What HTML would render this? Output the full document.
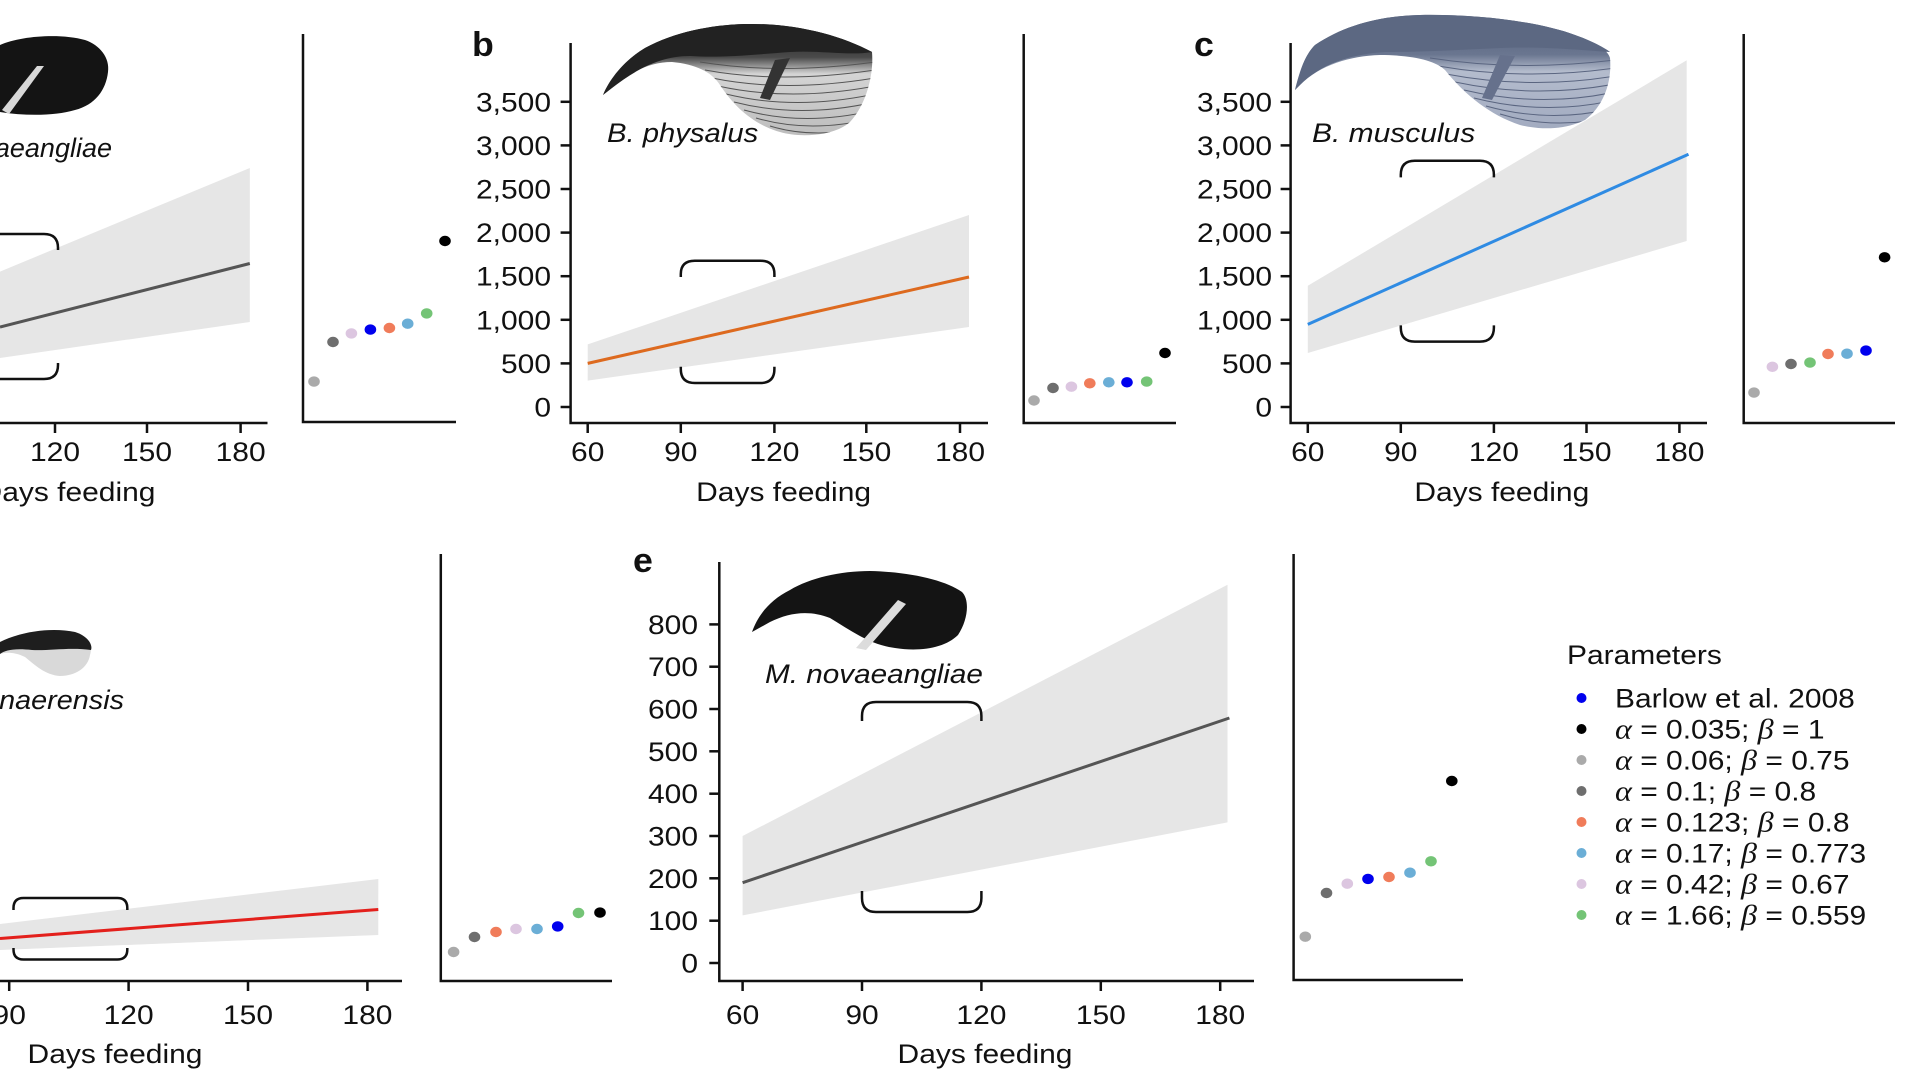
<!DOCTYPE html>
<html><head><meta charset="utf-8"><style>
html,body{margin:0;padding:0;background:#fff;}
svg{display:block;}
text{font-family:"Liberation Sans",Arial,sans-serif;font-size:27px;fill:#111;}
.it{font-style:italic;}
.gr{font-family:"Liberation Serif",serif;font-style:italic;font-size:29px;}
.lbl{font-weight:bold;font-size:34px;}
.ax{stroke:#111;stroke-width:2.5;fill:none;}
.br{stroke:#111;stroke-width:2.5;fill:none;}
</style></head><body>
<svg width="1920" height="1080" viewBox="0 0 1920 1080" xmlns="http://www.w3.org/2000/svg">
<rect width="1920" height="1080" fill="#fff"/>

<!-- ============ PANEL A (partial) ============ -->
<path d="M0,45 C20,36 60,33 85,40 C100,45 110,58 108,72 C106,90 95,105 75,110 C55,116 25,116 0,112 Z" fill="#141414"/>
<path d="M44,66 L37,66 L2,110 L9,114 Z" fill="#d8d8d8"/>
<text class="it" text-anchor="end" transform="translate(112,157) scale(1.0,1)">M. novaeangliae</text>
<polygon points="0,271.6 249.8,168 249.8,322 0,358" fill="#e6e6e6"/>
<line x1="0" y1="327" x2="249.8" y2="263.5" stroke="#555" stroke-width="3"/>
<path class="br" d="M-38,250 V248 Q-38,234 -24,234 H44 Q58,234 58,248 V250"/>
<path class="br" d="M-38,363 V365 Q-38,379 -24,379 H44 Q58,379 58,365 V363"/>
<line class="ax" x1="0" y1="423" x2="267.5" y2="423"/>
<g class="ax"><line x1="55" y1="423" x2="55" y2="433"/><line x1="147" y1="423" x2="147" y2="433"/><line x1="240.6" y1="423" x2="240.6" y2="433"/></g>
<text text-anchor="middle" transform="translate(55,461) scale(1.11,1)">120</text>
<text text-anchor="middle" transform="translate(147,461) scale(1.11,1)">150</text>
<text text-anchor="middle" transform="translate(240.6,461) scale(1.11,1)">180</text>
<text text-anchor="middle" transform="translate(68,501) scale(1.11,1)">Days feeding</text>
<path class="ax" d="M303,34 V422 H456"/>
<ellipse cx="314" cy="381.6" rx="5.8" ry="5.2" fill="#aaaaaa"/>
<ellipse cx="333" cy="342" rx="5.8" ry="5.2" fill="#6e6e6e"/>
<ellipse cx="351.4" cy="333.4" rx="5.8" ry="5.2" fill="#dcc6e0"/>
<ellipse cx="370.4" cy="329.6" rx="5.8" ry="5.2" fill="#0000ee"/>
<ellipse cx="389.4" cy="328" rx="5.8" ry="5.2" fill="#f07c5a"/>
<ellipse cx="407.7" cy="323.7" rx="5.8" ry="5.2" fill="#6baed6"/>
<ellipse cx="426.7" cy="313.4" rx="5.8" ry="5.2" fill="#74c476"/>
<ellipse cx="445" cy="241" rx="5.8" ry="5.2" fill="#000"/>

<!-- ============ PANEL B ============ -->
<text class="lbl" transform="translate(472,56) scale(1.05,1)">b</text>
<defs>
<linearGradient id="gb" x1="0" y1="0" x2="0" y2="1"><stop offset="0" stop-color="#1e1e1e"/><stop offset="0.3" stop-color="#4a4a4a"/><stop offset="0.45" stop-color="#d4d4d4"/><stop offset="1" stop-color="#bdbdbd"/></linearGradient>
<linearGradient id="gc" x1="0" y1="0" x2="0" y2="1"><stop offset="0" stop-color="#4f5b75"/><stop offset="0.35" stop-color="#6a7690"/><stop offset="0.5" stop-color="#b4bccd"/><stop offset="1" stop-color="#a2abc0"/></linearGradient>
<clipPath id="cb"><path d="M603,95 C610,78 625,60 645,48 C675,32 710,25 745,24 C795,23 840,35 872,52 C874,75 866,105 850,122 C835,136 800,138 780,132 C755,125 735,108 720,85 C712,72 695,64 672,62 C650,62 630,72 612,88 Z"/></clipPath>
<clipPath id="cc"><path d="M1295,90 C1300,70 1305,55 1315,45 C1345,25 1380,16 1420,15 C1480,14 1540,22 1575,35 C1595,42 1608,50 1610,58 C1612,80 1605,105 1585,120 C1565,130 1540,130 1520,125 C1490,115 1465,95 1445,70 C1435,60 1410,55 1380,55 C1350,56 1320,65 1300,85 Z"/></clipPath>
</defs>
<path d="M603,95 C610,78 625,60 645,48 C675,32 710,25 745,24 C795,23 840,35 872,52 C874,75 866,105 850,122 C835,136 800,138 780,132 C755,125 735,108 720,85 C712,72 695,64 672,62 C650,62 630,72 612,88 Z" fill="url(#gb)"/>
<g clip-path="url(#cb)" stroke="#555" stroke-width="1" fill="none">
<path d="M700,62 Q780,75 875,62"/><path d="M705,70 Q780,84 875,70"/><path d="M712,78 Q785,93 875,78"/><path d="M718,86 Q790,102 875,86"/><path d="M726,94 Q795,111 875,94"/><path d="M734,102 Q800,119 875,102"/><path d="M744,110 Q805,127 875,110"/><path d="M756,118 Q810,134 875,118"/><path d="M770,126 Q815,140 875,126"/>
</g>
<path d="M603,95 C610,78 625,60 645,48 C675,32 710,25 745,24 C795,23 840,35 872,52 C850,56 820,50 790,52 C750,55 720,58 690,56 C660,56 635,70 612,88 Z" fill="#222"/>
<path d="M775,60 L790,58 L770,100 L760,98 Z" fill="#333"/>
<text class="it" transform="translate(607,142) scale(1.084,1)">B. physalus</text>
<polygon points="587.7,344.4 969,215 969,327 587.7,380.6" fill="#e6e6e6"/>
<line x1="587.7" y1="363.4" x2="969" y2="277" stroke="#dd6a1f" stroke-width="3"/>
<path class="br" d="M680.8,277 V274 Q680.8,260.7 694.8,260.7 H760.4 Q774.4,260.7 774.4,274 V277"/>
<path class="br" d="M680.8,366.8 V369 Q680.8,383 694.8,383 H760.4 Q774.4,383 774.4,369 V366.8"/>
<path class="ax" d="M570.6,43 V423 H988"/>
<g class="ax">
<line x1="560.6" y1="407" x2="570.6" y2="407"/><line x1="560.6" y1="363.4" x2="570.6" y2="363.4"/><line x1="560.6" y1="319.8" x2="570.6" y2="319.8"/><line x1="560.6" y1="276.2" x2="570.6" y2="276.2"/><line x1="560.6" y1="232.6" x2="570.6" y2="232.6"/><line x1="560.6" y1="189" x2="570.6" y2="189"/><line x1="560.6" y1="145.4" x2="570.6" y2="145.4"/><line x1="560.6" y1="101.8" x2="570.6" y2="101.8"/>
<line x1="587.7" y1="423" x2="587.7" y2="433"/><line x1="680.8" y1="423" x2="680.8" y2="433"/><line x1="774.4" y1="423" x2="774.4" y2="433"/><line x1="866.3" y1="423" x2="866.3" y2="433"/><line x1="960" y1="423" x2="960" y2="433"/>
</g>
<g text-anchor="end">
<text transform="translate(551,416.5) scale(1.11,1)">0</text>
<text transform="translate(551,372.9) scale(1.11,1)">500</text>
<text transform="translate(551,329.3) scale(1.11,1)">1,000</text>
<text transform="translate(551,285.7) scale(1.11,1)">1,500</text>
<text transform="translate(551,242.1) scale(1.11,1)">2,000</text>
<text transform="translate(551,198.5) scale(1.11,1)">2,500</text>
<text transform="translate(551,154.9) scale(1.11,1)">3,000</text>
<text transform="translate(551,111.3) scale(1.11,1)">3,500</text>
</g>
<g text-anchor="middle">
<text transform="translate(587.7,461) scale(1.11,1)">60</text>
<text transform="translate(680.8,461) scale(1.11,1)">90</text>
<text transform="translate(774.4,461) scale(1.11,1)">120</text>
<text transform="translate(866.3,461) scale(1.11,1)">150</text>
<text transform="translate(960,461) scale(1.11,1)">180</text>
<text transform="translate(783.6,501) scale(1.11,1)">Days feeding</text>
</g>
<path class="ax" d="M1023.7,34 V423 H1176"/>
<ellipse cx="1034" cy="400.5" rx="5.8" ry="5.2" fill="#aaaaaa"/>
<ellipse cx="1053" cy="388" rx="5.8" ry="5.2" fill="#6e6e6e"/>
<ellipse cx="1071.4" cy="386.7" rx="5.8" ry="5.2" fill="#dcc6e0"/>
<ellipse cx="1089.8" cy="383.3" rx="5.8" ry="5.2" fill="#f07c5a"/>
<ellipse cx="1108.8" cy="382.3" rx="5.8" ry="5.2" fill="#6baed6"/>
<ellipse cx="1127" cy="382.3" rx="5.8" ry="5.2" fill="#0000ee"/>
<ellipse cx="1146.7" cy="381.6" rx="5.8" ry="5.2" fill="#74c476"/>
<ellipse cx="1165" cy="353" rx="5.8" ry="5.2" fill="#000"/>

<!-- ============ PANEL C ============ -->
<text class="lbl" transform="translate(1194,56) scale(1.05,1)">c</text>
<path d="M1295,90 C1300,70 1305,55 1315,45 C1345,25 1380,16 1420,15 C1480,14 1540,22 1575,35 C1595,42 1608,50 1610,58 C1612,80 1605,105 1585,120 C1565,130 1540,130 1520,125 C1490,115 1465,95 1445,70 C1435,60 1410,55 1380,55 C1350,56 1320,65 1300,85 Z" fill="url(#gc)"/>
<g clip-path="url(#cc)" stroke="#5a6580" stroke-width="1" fill="none">
<path d="M1430,58 Q1520,72 1615,60"/><path d="M1438,66 Q1525,81 1615,68"/><path d="M1446,74 Q1530,90 1615,76"/><path d="M1455,82 Q1535,99 1615,84"/><path d="M1464,90 Q1540,108 1615,92"/><path d="M1474,98 Q1545,116 1615,100"/><path d="M1486,106 Q1550,124 1615,108"/><path d="M1500,114 Q1555,131 1615,116"/>
</g>
<path d="M1295,90 C1300,70 1305,55 1315,45 C1345,25 1380,16 1420,15 C1480,14 1540,22 1575,35 C1595,42 1608,50 1610,52 C1580,50 1540,46 1500,48 C1460,50 1420,52 1385,52 C1350,54 1320,65 1300,85 Z" fill="#5c6882"/>
<path d="M1500,55 L1515,56 L1492,100 L1482,98 Z" fill="#66718c"/>
<text class="it" transform="translate(1312,142) scale(1.11,1)">B. musculus</text>
<polygon points="1307.8,285.8 1686.7,60.3 1686.7,241 1307.8,353" fill="#e6e6e6"/>
<line x1="1307.8" y1="324.4" x2="1688.5" y2="154.3" stroke="#2f8be3" stroke-width="3"/>
<path class="br" d="M1400.8,177.4 V174.8 Q1400.8,160.8 1414.8,160.8 H1479.9 Q1493.9,160.8 1493.9,174.8 V177.4"/>
<path class="br" d="M1400.8,325.4 V327.6 Q1400.8,341.6 1414.8,341.6 H1479.9 Q1493.9,341.6 1493.9,327.6 V325.4"/>
<path class="ax" d="M1290.6,43 V423 H1707"/>
<g class="ax">
<line x1="1280.6" y1="407" x2="1290.6" y2="407"/><line x1="1280.6" y1="363.4" x2="1290.6" y2="363.4"/><line x1="1280.6" y1="319.8" x2="1290.6" y2="319.8"/><line x1="1280.6" y1="276.2" x2="1290.6" y2="276.2"/><line x1="1280.6" y1="232.6" x2="1290.6" y2="232.6"/><line x1="1280.6" y1="189" x2="1290.6" y2="189"/><line x1="1280.6" y1="145.4" x2="1290.6" y2="145.4"/><line x1="1280.6" y1="101.8" x2="1290.6" y2="101.8"/>
<line x1="1307.8" y1="423" x2="1307.8" y2="433"/><line x1="1400.8" y1="423" x2="1400.8" y2="433"/><line x1="1493.9" y1="423" x2="1493.9" y2="433"/><line x1="1586.5" y1="423" x2="1586.5" y2="433"/><line x1="1679.4" y1="423" x2="1679.4" y2="433"/>
</g>
<g text-anchor="end">
<text transform="translate(1272,416.5) scale(1.11,1)">0</text>
<text transform="translate(1272,372.9) scale(1.11,1)">500</text>
<text transform="translate(1272,329.3) scale(1.11,1)">1,000</text>
<text transform="translate(1272,285.7) scale(1.11,1)">1,500</text>
<text transform="translate(1272,242.1) scale(1.11,1)">2,000</text>
<text transform="translate(1272,198.5) scale(1.11,1)">2,500</text>
<text transform="translate(1272,154.9) scale(1.11,1)">3,000</text>
<text transform="translate(1272,111.3) scale(1.11,1)">3,500</text>
</g>
<g text-anchor="middle">
<text transform="translate(1307.8,461) scale(1.11,1)">60</text>
<text transform="translate(1400.8,461) scale(1.11,1)">90</text>
<text transform="translate(1493.9,461) scale(1.11,1)">120</text>
<text transform="translate(1586.5,461) scale(1.11,1)">150</text>
<text transform="translate(1679.4,461) scale(1.11,1)">180</text>
<text transform="translate(1501.8,501) scale(1.11,1)">Days feeding</text>
</g>
<path class="ax" d="M1743.7,34 V423 H1895"/>
<ellipse cx="1754" cy="392.6" rx="5.8" ry="5.2" fill="#aaaaaa"/>
<ellipse cx="1772.4" cy="366.8" rx="5.8" ry="5.2" fill="#dcc6e0"/>
<ellipse cx="1791" cy="364" rx="5.8" ry="5.2" fill="#6e6e6e"/>
<ellipse cx="1810" cy="362.6" rx="5.8" ry="5.2" fill="#74c476"/>
<ellipse cx="1828" cy="354" rx="5.8" ry="5.2" fill="#f07c5a"/>
<ellipse cx="1847" cy="353.7" rx="5.8" ry="5.2" fill="#6baed6"/>
<ellipse cx="1866" cy="350.6" rx="5.8" ry="5.2" fill="#0000ee"/>
<ellipse cx="1884.6" cy="257.3" rx="5.8" ry="5.2" fill="#000"/>

<!-- ============ PANEL D (partial) ============ -->
<path d="M0,642 C20,632 50,627 75,632 C88,636 93,645 90,655 C88,668 75,676 60,676 C45,675 35,665 25,657 C15,652 5,652 0,654 Z" fill="#d9d9d9"/>
<path d="M0,642 C20,632 50,627 75,632 C88,636 93,645 91,650 C70,647 48,651 32,650 C15,648 5,650 0,654 Z" fill="#1e1e1e"/>
<text class="it" text-anchor="end" transform="translate(124,709) scale(1.067,1)">B. bonaerensis</text>
<polygon points="0,924 378.3,879 378.3,935 0,950" fill="#e6e6e6"/>
<line x1="0" y1="938.5" x2="378.3" y2="909.5" stroke="#e3201c" stroke-width="3"/>
<path class="br" d="M13.5,910 V908 Q13.5,898 23.5,898 H117.3 Q127.3,898 127.3,908 V910"/>
<path class="br" d="M13.5,948 V949.5 Q13.5,959.5 23.5,959.5 H117.3 Q127.3,959.5 127.3,949.5 V948"/>
<line class="ax" x1="0" y1="981" x2="402" y2="981"/>
<g class="ax"><line x1="9.2" y1="981" x2="9.2" y2="991"/><line x1="128.6" y1="981" x2="128.6" y2="991"/><line x1="248" y1="981" x2="248" y2="991"/><line x1="367.4" y1="981" x2="367.4" y2="991"/></g>
<g text-anchor="middle">
<text transform="translate(9.2,1024) scale(1.11,1)">90</text>
<text transform="translate(128.6,1024) scale(1.11,1)">120</text>
<text transform="translate(248,1024) scale(1.11,1)">150</text>
<text transform="translate(367.4,1024) scale(1.11,1)">180</text>
<text transform="translate(115,1063) scale(1.11,1)">Days feeding</text>
</g>
<path class="ax" d="M440.8,554 V981 H612"/>
<ellipse cx="453.6" cy="952" rx="5.8" ry="5.2" fill="#aaaaaa"/>
<ellipse cx="474.5" cy="937" rx="5.8" ry="5.2" fill="#6e6e6e"/>
<ellipse cx="496" cy="932" rx="5.8" ry="5.2" fill="#f07c5a"/>
<ellipse cx="516" cy="929" rx="5.8" ry="5.2" fill="#dcc6e0"/>
<ellipse cx="537" cy="929" rx="5.8" ry="5.2" fill="#6baed6"/>
<ellipse cx="557.7" cy="926.4" rx="5.8" ry="5.2" fill="#0000ee"/>
<ellipse cx="578.5" cy="913" rx="5.8" ry="5.2" fill="#74c476"/>
<ellipse cx="600" cy="912.6" rx="5.8" ry="5.2" fill="#000"/>

<!-- ============ PANEL E ============ -->
<text class="lbl" transform="translate(633,572) scale(1.05,1)">e</text>
<path d="M752,632 C758,615 770,600 790,590 C810,578 840,571 870,571 C910,572 945,580 962,592 C970,600 968,620 958,635 C945,648 920,652 895,648 C870,645 850,630 830,618 C810,610 790,612 770,622 Z" fill="#141414"/>
<path d="M898,600 L906,604 L866,650 L856,648 Z" fill="#dcdcdc"/>
<text class="it" transform="translate(765,683) scale(1.1,1)">M. novaeangliae</text>
<polygon points="742.6,836 1227.5,584.8 1227.5,822.4 742.6,915.4" fill="#e6e6e6"/>
<line x1="742.6" y1="882.7" x2="1229.4" y2="718" stroke="#555" stroke-width="3"/>
<path class="br" d="M862,721 V716 Q862,702 876,702 H967.4 Q981.4,702 981.4,716 V721"/>
<path class="br" d="M862,891 V898 Q862,912 876,912 H967.4 Q981.4,912 981.4,898 V891"/>
<path class="ax" d="M719.3,562 V981 H1254"/>
<g class="ax">
<line x1="709.3" y1="963" x2="719.3" y2="963"/><line x1="709.3" y1="920.7" x2="719.3" y2="920.7"/><line x1="709.3" y1="878.3" x2="719.3" y2="878.3"/><line x1="709.3" y1="836" x2="719.3" y2="836"/><line x1="709.3" y1="793.7" x2="719.3" y2="793.7"/><line x1="709.3" y1="751.3" x2="719.3" y2="751.3"/><line x1="709.3" y1="709" x2="719.3" y2="709"/><line x1="709.3" y1="666.7" x2="719.3" y2="666.7"/><line x1="709.3" y1="624.4" x2="719.3" y2="624.4"/>
<line x1="742.6" y1="981" x2="742.6" y2="991"/><line x1="862" y1="981" x2="862" y2="991"/><line x1="981.4" y1="981" x2="981.4" y2="991"/><line x1="1100.8" y1="981" x2="1100.8" y2="991"/><line x1="1220.2" y1="981" x2="1220.2" y2="991"/>
</g>
<g text-anchor="end">
<text transform="translate(698,972.5) scale(1.11,1)">0</text>
<text transform="translate(698,930.2) scale(1.11,1)">100</text>
<text transform="translate(698,887.8) scale(1.11,1)">200</text>
<text transform="translate(698,845.5) scale(1.11,1)">300</text>
<text transform="translate(698,803.2) scale(1.11,1)">400</text>
<text transform="translate(698,760.8) scale(1.11,1)">500</text>
<text transform="translate(698,718.5) scale(1.11,1)">600</text>
<text transform="translate(698,676.2) scale(1.11,1)">700</text>
<text transform="translate(698,633.9) scale(1.11,1)">800</text>
</g>
<g text-anchor="middle">
<text transform="translate(742.6,1024) scale(1.11,1)">60</text>
<text transform="translate(862,1024) scale(1.11,1)">90</text>
<text transform="translate(981.4,1024) scale(1.11,1)">120</text>
<text transform="translate(1100.8,1024) scale(1.11,1)">150</text>
<text transform="translate(1220.2,1024) scale(1.11,1)">180</text>
<text transform="translate(985,1063) scale(1.11,1)">Days feeding</text>
</g>
<path class="ax" d="M1293.6,554 V980 H1463"/>
<ellipse cx="1305.3" cy="936.7" rx="5.8" ry="5.2" fill="#aaaaaa"/>
<ellipse cx="1326.5" cy="893" rx="5.8" ry="5.2" fill="#6e6e6e"/>
<ellipse cx="1347.3" cy="883.7" rx="5.8" ry="5.2" fill="#dcc6e0"/>
<ellipse cx="1368" cy="878.9" rx="5.8" ry="5.2" fill="#0000ee"/>
<ellipse cx="1389" cy="877" rx="5.8" ry="5.2" fill="#f07c5a"/>
<ellipse cx="1410" cy="872.7" rx="5.8" ry="5.2" fill="#6baed6"/>
<ellipse cx="1431" cy="861.3" rx="5.8" ry="5.2" fill="#74c476"/>
<ellipse cx="1451.8" cy="781" rx="5.8" ry="5.2" fill="#000"/>

<!-- ============ LEGEND ============ -->
<text transform="translate(1567,664) scale(1.11,1)">Parameters</text>
<ellipse cx="1581.5" cy="698" rx="5" ry="5" fill="#0000ee"/>
<ellipse cx="1581.5" cy="729" rx="5" ry="5" fill="#000"/>
<ellipse cx="1581.5" cy="760" rx="5" ry="5" fill="#aaaaaa"/>
<ellipse cx="1581.5" cy="791" rx="5" ry="5" fill="#6e6e6e"/>
<ellipse cx="1581.5" cy="822" rx="5" ry="5" fill="#f07c5a"/>
<ellipse cx="1581.5" cy="853" rx="5" ry="5" fill="#6baed6"/>
<ellipse cx="1581.5" cy="884" rx="5" ry="5" fill="#dcc6e0"/>
<ellipse cx="1581.5" cy="915" rx="5" ry="5" fill="#74c476"/>
<text transform="translate(1615,707.5) scale(1.11,1)">Barlow et al. 2008</text>
<text transform="translate(1615,738.5) scale(1.11,1)"><tspan class="gr">α</tspan> = 0.035; <tspan class="gr">β</tspan> = 1</text>
<text transform="translate(1615,769.5) scale(1.11,1)"><tspan class="gr">α</tspan> = 0.06; <tspan class="gr">β</tspan> = 0.75</text>
<text transform="translate(1615,800.5) scale(1.11,1)"><tspan class="gr">α</tspan> = 0.1; <tspan class="gr">β</tspan> = 0.8</text>
<text transform="translate(1615,831.5) scale(1.11,1)"><tspan class="gr">α</tspan> = 0.123; <tspan class="gr">β</tspan> = 0.8</text>
<text transform="translate(1615,862.5) scale(1.11,1)"><tspan class="gr">α</tspan> = 0.17; <tspan class="gr">β</tspan> = 0.773</text>
<text transform="translate(1615,893.5) scale(1.11,1)"><tspan class="gr">α</tspan> = 0.42; <tspan class="gr">β</tspan> = 0.67</text>
<text transform="translate(1615,924.5) scale(1.11,1)"><tspan class="gr">α</tspan> = 1.66; <tspan class="gr">β</tspan> = 0.559</text>
</svg>
</body></html>
